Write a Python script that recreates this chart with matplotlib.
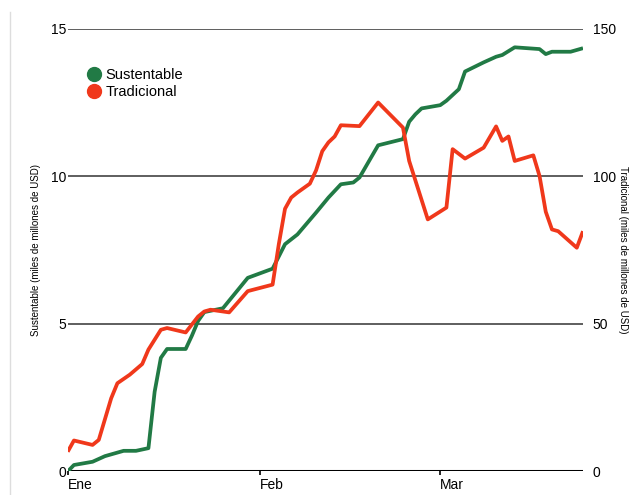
import matplotlib
matplotlib.use('Agg')
import matplotlib.pyplot as plt
from matplotlib.lines import Line2D
import numpy as np

plt.rcParams['font.family'] = ['Liberation Sans', 'DejaVu Sans']

# Sustentable (miles de millones de USD), eje izquierdo
sust_dates = ['2020-01-01', '2020-01-02', '2020-01-05', '2020-01-07', '2020-01-08',
              '2020-01-10', '2020-01-12', '2020-01-14', '2020-01-15', '2020-01-16',
              '2020-01-17', '2020-01-20', '2020-01-21', '2020-01-22', '2020-01-23',
              '2020-01-26', '2020-01-30', '2020-02-03', '2020-02-05', '2020-02-07',
              '2020-02-10', '2020-02-12', '2020-02-14', '2020-02-16', '2020-02-17',
              '2020-02-20', '2020-02-24', '2020-02-25', '2020-02-26', '2020-02-27',
              '2020-03-01', '2020-03-02', '2020-03-04', '2020-03-05', '2020-03-08',
              '2020-03-10', '2020-03-11', '2020-03-13', '2020-03-17', '2020-03-18',
              '2020-03-19', '2020-03-22', '2020-03-24']
sust_vals = [0.0, 0.22, 0.33, 0.52, 0.58,
             0.70, 0.70, 0.79, 2.7, 3.85,
             4.15, 4.15, 4.6, 5.1, 5.4,
             5.53, 6.56, 6.87, 7.7, 8.03,
             8.77, 9.28, 9.73, 9.79, 9.96,
             11.05, 11.26, 11.85, 12.1, 12.3,
             12.41, 12.56, 12.95, 13.55, 13.86,
             14.05, 14.11, 14.37, 14.31, 14.14,
             14.22, 14.22, 14.34]

# Tradicional (miles de millones de USD), eje derecho
trad_dates = ['2020-01-01', '2020-01-02', '2020-01-05', '2020-01-06', '2020-01-08',
              '2020-01-09', '2020-01-11', '2020-01-13', '2020-01-14', '2020-01-16',
              '2020-01-17', '2020-01-20', '2020-01-21', '2020-01-22', '2020-01-23',
              '2020-01-24', '2020-01-27', '2020-01-30', '2020-02-03', '2020-02-04',
              '2020-02-05', '2020-02-06', '2020-02-07', '2020-02-09', '2020-02-10',
              '2020-02-11', '2020-02-12', '2020-02-13', '2020-02-14', '2020-02-17',
              '2020-02-20', '2020-02-24', '2020-02-25', '2020-02-28', '2020-03-02',
              '2020-03-03', '2020-03-05', '2020-03-08', '2020-03-10', '2020-03-11',
              '2020-03-12', '2020-03-13', '2020-03-16', '2020-03-17', '2020-03-18',
              '2020-03-19', '2020-03-20', '2020-03-23', '2020-03-24']
trad_vals = [6.7, 10.5, 9.0, 10.7, 24.8,
             29.9, 32.8, 36.4, 41.3, 48.0,
             48.6, 47.1, 49.8, 52.5, 54.2,
             54.8, 53.9, 61.1, 63.3, 77.0,
             89.0, 92.8, 94.5, 97.5, 102.0,
             108.5, 111.5, 113.5, 117.3, 117.0,
             125.0, 116.5, 105.2, 85.4, 89.4,
             109.2, 106.0, 109.7, 116.9, 112.0,
             113.5, 105.2, 107.1, 100.1, 88.0,
             82.0, 81.4, 75.8, 81.4]

month_ticks = ['2020-01-01', '2020-02-01', '2020-03-01']
month_labels = ['Ene', 'Feb', 'Mar']

green = '#217a45'
red = '#f0381b'

fig = plt.figure(figsize=(6.3, 4.95), dpi=100)
ax = fig.add_axes([0.1075, 0.0475, 0.8179, 0.8945])
ax2 = ax.twinx()

ax.plot(np.array(sust_dates, dtype='datetime64[D]'), sust_vals, color=green, lw=2.7,
        solid_joinstyle='round', solid_capstyle='butt', zorder=3)
ax2.plot(np.array(trad_dates, dtype='datetime64[D]'), trad_vals, color=red, lw=2.7,
         solid_joinstyle='round', solid_capstyle='butt', zorder=3)

ax.set_xlim(np.datetime64('2020-01-01'), np.datetime64('2020-03-24'))
ax.set_ylim(0, 15)
ax2.set_ylim(0, 150)

for y in [5, 10, 15]:
    ax.axhline(y, color='#333333', lw=1.1, zorder=1)
ax.axhline(0, color='black', lw=2.2, zorder=2)

for a in (ax, ax2):
    for s in a.spines.values():
        s.set_visible(False)

ax.set_yticks([0, 5, 10, 15])
ax.set_yticklabels(['0', '5', '10', '15'])
ax2.set_yticks([0, 50, 100, 150])
ax2.set_yticklabels(['0', '50', '100', '150'])
ax.tick_params(axis='y', length=0, pad=1, labelsize=10)
ax2.tick_params(axis='y', length=0, pad=7, labelsize=10)

ax.set_xticks(np.array(month_ticks, dtype='datetime64[D]'))
ax.set_xticklabels(month_labels)
for lab in ax.get_xticklabels():
    lab.set_horizontalalignment('left')
ax.tick_params(axis='x', length=3, width=1.2, pad=2, labelsize=10, color='black')

ax.set_ylabel('Sustentable (miles de millones de USD)', fontsize=7)
ax.yaxis.set_label_coords(-0.052, 0.5)
ax2.set_ylabel('Tradicional (miles de millones de USD)', fontsize=7, rotation=-90,
               va='center')
ax2.yaxis.set_label_coords(1.078, 0.5)

handles = [Line2D([], [], marker='o', color=green, lw=0, markersize=10),
           Line2D([], [], marker='o', color=red, lw=0, markersize=10)]
fig.legend(handles, ['Sustentable', 'Tradicional'], loc='upper left',
           bbox_to_anchor=(79 / 630, 1 - 61 / 495), frameon=False, fontsize=10.5,
           borderpad=0, handlelength=1.0, handletextpad=0.3, labelspacing=0.2)

# borde gris de la captura
fig.add_artist(Line2D([10 / 630, 10 / 630], [0, 1 - 12 / 495], color='#dddddd', lw=1))

fig.savefig('out.png', dpi=100)
